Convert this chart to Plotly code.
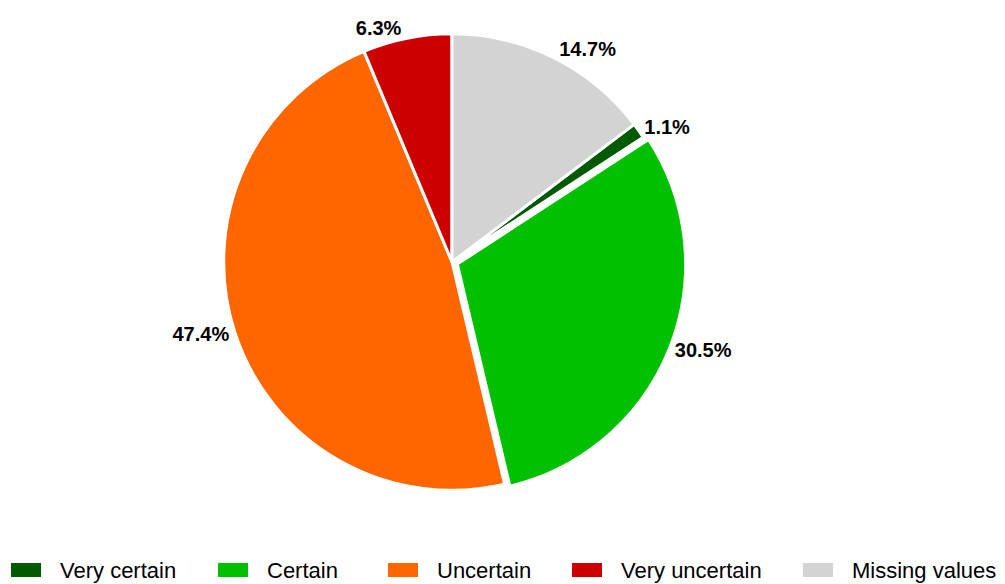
import plotly.graph_objects as go

# Data
categories = ["Very certain", "Certain", "Uncertain", "Very uncertain", "Missing values"]
values = [1.1, 30.5, 47.4, 6.3, 14.7]
colors = ["#005a00", "#00c000", "#ff6600", "#cc0000", "#d3d3d3"]

# rotation so that "Missing values" starts at 12 o'clock
rotation = values[-1] / sum(values) * 360

W, H = 997, 576
ML, MR, MT, MB = 0, 109, 20, 88
PW, PH = W - ML - MR, H - MT - MB
FONT = "Liberation Sans, Arial, sans-serif"

fig = go.Figure()
fig.add_trace(go.Pie(
    labels=categories,
    values=values,
    sort=False,
    direction="clockwise",
    rotation=rotation,
    marker=dict(colors=colors, line=dict(color="white", width=3)),
    pull=[0, 0.025, 0, 0, 0],
    texttemplate="<b>%{value:.1f}%</b>",
    textposition="outside",
    textfont=dict(family=FONT, size=20, color="black"),
    showlegend=False,
    hoverinfo="label+percent",
))

# Manual legend along the bottom (pixel layout in figure coordinates)
legend_x = [3, 210, 380, 564, 795]
sq_w, sq_h = 30, 14
leg_y = 562


def px_to_paper_x(px):
    return (px - ML) / PW


def px_to_paper_y(py):
    return (MT + PH - py) / PH


shapes = []
annotations = []
for x0, lab, col in zip(legend_x, categories, colors):
    shapes.append(dict(type="rect", xref="paper", yref="paper",
                       x0=px_to_paper_x(x0), x1=px_to_paper_x(x0 + sq_w),
                       y0=px_to_paper_y(leg_y + sq_h / 2), y1=px_to_paper_y(leg_y - sq_h / 2),
                       fillcolor=col, line=dict(width=0)))
    annotations.append(dict(xref="paper", yref="paper", x=px_to_paper_x(x0 + 47),
                            y=px_to_paper_y(leg_y), xanchor="left", yanchor="middle",
                            text=lab, showarrow=False,
                            font=dict(family=FONT, size=22, color="black")))

fig.update_layout(
    width=W, height=H,
    margin=dict(l=ML, r=MR, t=MT, b=MB, autoexpand=False),
    paper_bgcolor="white",
    plot_bgcolor="white",
    shapes=shapes,
    annotations=annotations,
)

fig.write_html("out.html")
